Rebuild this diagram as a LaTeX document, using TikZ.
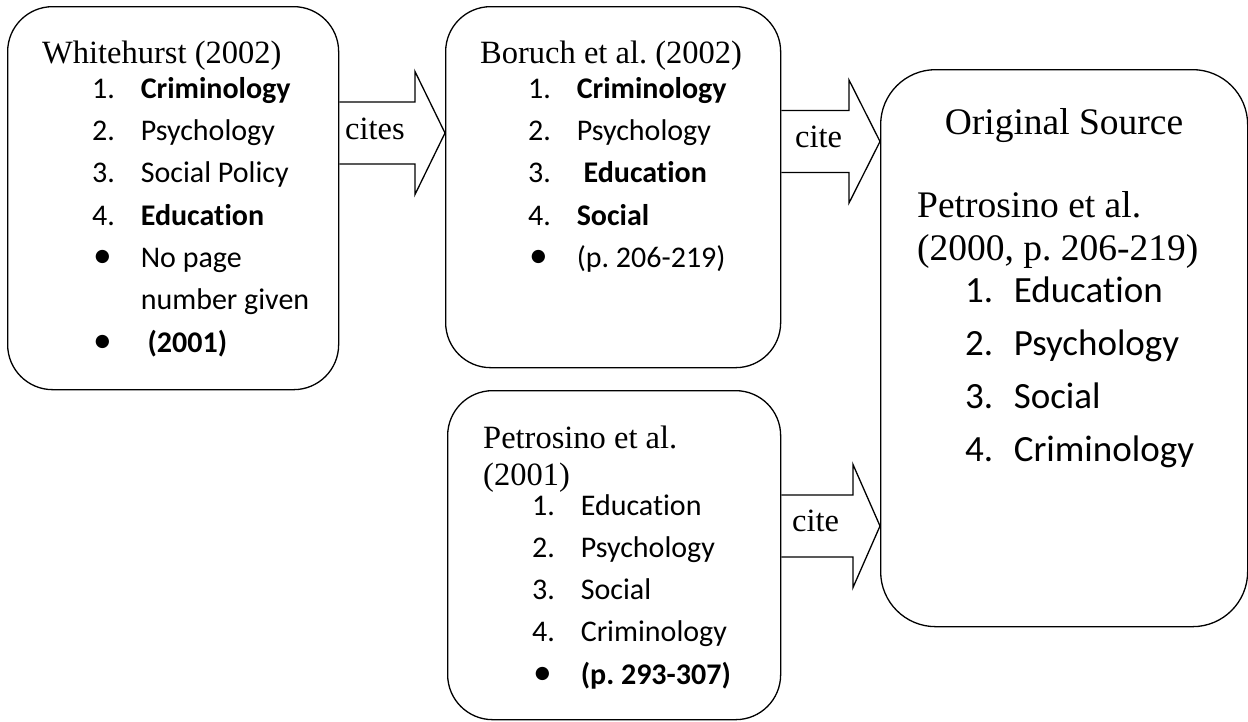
\documentclass[tikz,border=0pt]{standalone}
\usepackage{fontspec}
\setmainfont{Liberation Serif}
\newfontfamily\calfont[Ligatures=NoCommon]{Carlito}
\usetikzlibrary{calc}
\frenchspacing
\newcommand\numitem[3][48.6pt]{\makebox[#1][l]{#2}#3}
\newcommand\bul{\hspace{1pt}\raisebox{-0.5pt}{\scalebox{1.25}{•}}}
\newcommand\blockarrow[4]{% from node, to node, y centre, head base x
  \draw[arrowline] (#1.east |- 0,#3-31) -- (#4,#3-31) -- (#4,#3-61.5) -- (#2.west |- 0,#3)
    -- (#4,#3+61.5) -- (#4,#3+31) -- (#1.east |- 0,#3+31);}
\begin{document}
\begin{tikzpicture}[x=1pt,y=-1pt,
  box/.style={draw, line width=1.3pt, rounded corners=45pt, inner sep=0pt, anchor=north west},
  arrowline/.style={draw, line width=1.3pt, line join=miter},
  ttl/.style={font=\fontsize{32.5}{37}\selectfont, anchor=base west, inner sep=0pt},
  bigttl/.style={font=\fontsize{37.5}{43}\selectfont, anchor=base west, inner sep=0pt},
  lst/.style={font=\calfont\fontsize{30}{35}\selectfont, anchor=base west, inner sep=0pt},
  biglst/.style={font=\calfont\fontsize{37}{44}\selectfont, anchor=base west, inner sep=0pt},
  lbl/.style={font=\fontsize{32.5}{37}\selectfont, anchor=base west, inner sep=0pt}]
\useasboundingbox (0,0) rectangle (1248,721);

% boxes
\node[box, minimum width=331pt, minimum height=383pt] (b1) at (7,6) {};
\node[box, minimum width=335pt, minimum height=361pt] (b2) at (445,6) {};
\node[box, minimum width=333pt, minimum height=329pt] (b3) at (447,390) {};
\node[box, rounded corners=55pt, minimum width=367pt, minimum height=557pt] (b4) at (880,69) {};

% block arrows
\blockarrow{b1}{b2}{133}{415}
\blockarrow{b2}{b4}{141.5}{849}
\blockarrow{b3}{b4}{526}{853}
\node[lbl] (l1) at (345,139) {cites};
\node[lbl] (l2) at (795,147) {cite};
\node[lbl] (l3) at (792,531) {cite};

% box 1
\node[ttl] (t1) at (42,63) {Whitehurst (2002)};
\node[lst] (t1a) at (92,98) {\numitem{1.}{\bfseries Criminology}};
\node[lst] (t1b) at (92,140.3) {\numitem{2.}{Psychology}};
\node[lst] (t1c) at (92,182.6) {\numitem{3.}{Social Policy}};
\node[lst] (t1d) at (92,225) {\numitem{4.}{\bfseries Education}};
\node[lst] (t1e) at (92,267.3) {\numitem{\bul}{No page}};
\node[lst] (t1f) at (140.6,309.6) {number given};
\node[lst] (t1g) at (92,352) {\numitem{\bul}{\bfseries\ (2001)}};

% box 2
\node[ttl] (t2) at (480,63) {Boruch et al. (2002)};
\node[lst] (t2a) at (528,98) {\numitem{1.}{\bfseries Criminology}};
\node[lst] (t2b) at (528,140.3) {\numitem{2.}{Psychology}};
\node[lst] (t2c) at (528,182.6) {\numitem{3.}{\bfseries\ Education}};
\node[lst] (t2d) at (528,225) {\numitem{4.}{\bfseries Social}};
\node[lst] (t2e) at (528,267.3) {\numitem{\bul}{(p. 206-219)}};

% box 3
\node[ttl] (t3) at (483,448) {Petrosino et al.};
\node[ttl] (t3y) at (483,485) {(2001)};
\node[lst] (t3a) at (532,515) {\numitem{1.}{Education}};
\node[lst] (t3b) at (532,557) {\numitem{2.}{Psychology}};
\node[lst] (t3c) at (532,599) {\numitem{3.}{Social}};
\node[lst] (t3d) at (532,641) {\numitem{4.}{Criminology}};
\node[lst] (t3e) at (532,684) {\numitem{\bul}{\bfseries (p. 293-307)}};

% box 4
\node[bigttl, anchor=base] (t4) at (1064,134) {Original Source};
\node[bigttl] (t4p) at (917,217) {Petrosino et al.};
\node[bigttl] (t4y) at (917,260) {(2000, p. 206-219)};
\node[biglst] (t4a) at (965,302) {\numitem{1.}{Education}};
\node[biglst] (t4b) at (965,355) {\numitem{2.}{Psychology}};
\node[biglst] (t4c) at (965,408) {\numitem{3.}{Social}};
\node[biglst] (t4d) at (965,461) {\numitem{4.}{Criminology}};
\end{tikzpicture}
\end{document}
